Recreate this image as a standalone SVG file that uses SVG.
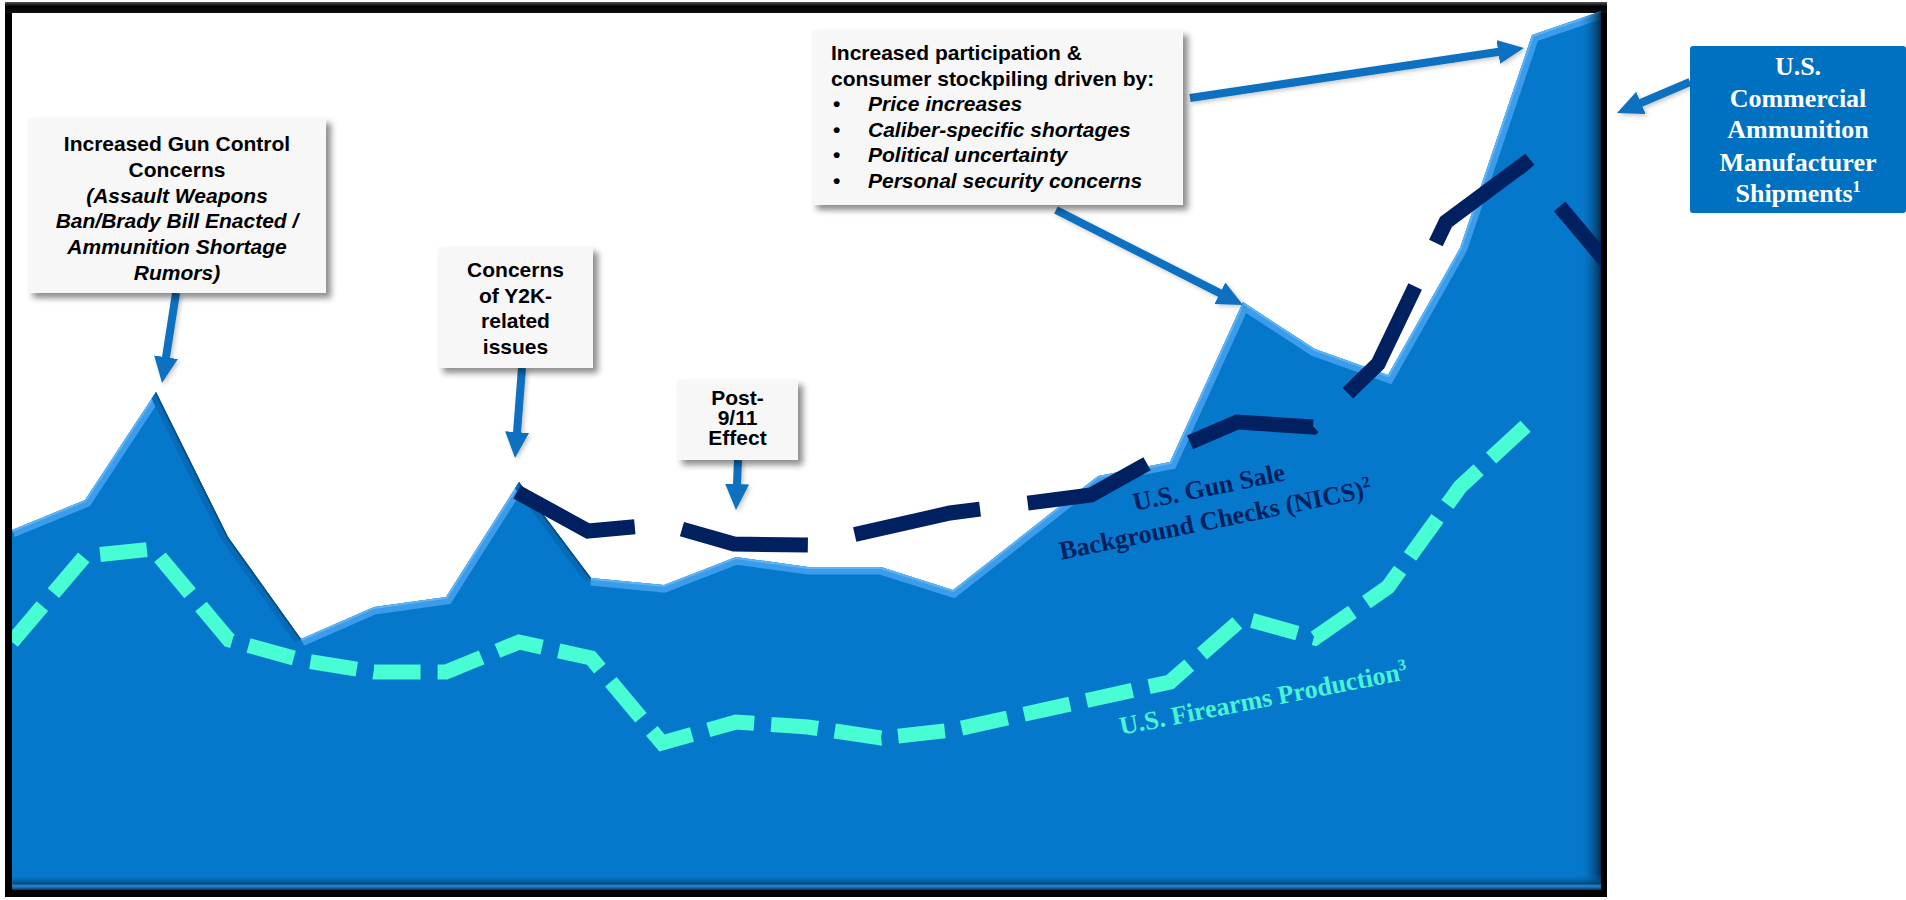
<svg xmlns="http://www.w3.org/2000/svg" width="1906" height="900" viewBox="0 0 1906 900">
<defs>
<style>
.box{fill:#F7F7F7;filter:url(#shadow)}
.t{font-family:"Liberation Sans",Arial,sans-serif;font-weight:bold;font-size:21px;fill:#000}
.c{text-anchor:middle}
.i{font-style:italic}
.ser{font-family:"Liberation Serif","Times New Roman",serif;font-weight:bold;font-size:26px}
.arrow{stroke:#0A70C0;stroke-width:8;fill:none;marker-end:url(#head)}
.lite{fill:none;stroke:#3A9CEA;stroke-width:15;stroke-linejoin:miter}
.liteEdge{fill:none;stroke:#5EB3F3;stroke-width:4;stroke-linejoin:miter}
.dark{fill:none;stroke:#0A4C80;stroke-width:3}
.darkBand{fill:none;stroke:#066AB6;stroke-width:14}
</style>
<marker id="head" markerUnits="userSpaceOnUse" markerWidth="26" markerHeight="24" viewBox="0 0 26 24" refX="6" refY="12" orient="auto"><path d="M0,0 L26,12 L0,24 z" fill="#0A70C0"/></marker>
<filter id="shadow" x="-10%" y="-10%" width="130%" height="130%"><feDropShadow dx="5" dy="5" stdDeviation="3" flood-color="#000" flood-opacity="0.45"/></filter>
<filter id="ashadow" filterUnits="userSpaceOnUse" x="0" y="0" width="1906" height="900"><feDropShadow dx="2" dy="2" stdDeviation="2" flood-color="#000" flood-opacity="0.22"/></filter>
<clipPath id="plot"><rect x="12" y="6" width="1589" height="884"/></clipPath>
<clipPath id="areaClip"><polygon points="12,530 85,500 156,392 228,537 301,639 374,607 446,597 519,482 591,578 664,585 736,557 808,567 881,567 953,590 1098,476 1170,462 1243,302 1315,349 1388,375 1460,248 1532,35 1605,10 1605,890 12,890"/></clipPath>
<linearGradient id="rightShade" x1="0" y1="0" x2="1" y2="0"><stop offset="0" stop-color="#0678CB" stop-opacity="0"/><stop offset="1" stop-color="#01243F" stop-opacity="0.9"/></linearGradient>
<linearGradient id="bottomShade" x1="0" y1="0" x2="0" y2="1"><stop offset="0" stop-color="#0678CB" stop-opacity="0"/><stop offset="0.6" stop-color="#03416F" stop-opacity="0.8"/><stop offset="0.75" stop-color="#2A8AD6" stop-opacity="0.9"/><stop offset="1" stop-color="#02335A" stop-opacity="1"/></linearGradient>
<linearGradient id="topFrame" x1="0" y1="0" x2="0" y2="1"><stop offset="0" stop-color="#555"/><stop offset="0.4" stop-color="#000"/><stop offset="1" stop-color="#111"/></linearGradient>
</defs>

<g id="frame">
<rect x="5" y="2" width="1602" height="895" fill="#000"/>
<rect x="5" y="2" width="1602" height="11" fill="url(#topFrame)"/>
<rect x="12" y="13" width="1589" height="877" fill="#FFFFFF"/>
</g>

<g id="chart" clip-path="url(#plot)">
<g id="ammunition-area">
<polygon points="12,530 85,500 156,392 228,537 301,639 374,607 446,597 519,482 591,578 664,585 736,557 808,567 881,567 953,590 1098,476 1170,462 1243,302 1315,349 1388,375 1460,248 1532,35 1605,10 1605,890 12,890" fill="#0678CB"/>
<g clip-path="url(#areaClip)">
<polyline class="lite" points="12,530 85,500 156,392"/>
<polyline class="lite" points="301,639 374,607 446,597 519,482"/>
<polyline class="lite" points="591,578 664,585 736,557 808,567 881,567 953,590 1098,476 1170,462 1243,302 1315,349 1388,375 1460,248 1532,35 1605,10"/>
<polyline class="liteEdge" points="12,530 85,500 156,392"/>
<polyline class="liteEdge" points="301,639 374,607 446,597 519,482"/>
<polyline class="liteEdge" points="591,578 664,585 736,557 808,567 881,567 953,590 1098,476 1170,462 1243,302 1315,349 1388,375 1460,248 1532,35 1605,10"/>
<polyline class="darkBand" points="156,392 228,537 301,639"/>
<polyline class="darkBand" points="519,482 591,578"/>
<polyline class="dark" points="156,392 228,537 301,639"/>
<polyline class="dark" points="519,482 591,578"/>
<rect x="1580" y="0" width="21" height="890" fill="url(#rightShade)"/>
<rect x="12" y="874" width="1589" height="16" fill="url(#bottomShade)"/>
</g>
</g>
<g id="nics-series">
<polyline points="517,492 588,531 664,524 734,544 808,545 950,513 1091,495 1170,451 1237,422 1313,427 1378,364 1446,222 1524,164 1608,264" fill="none" stroke="#002060" stroke-width="15" stroke-dasharray="128 48" stroke-linejoin="miter"/>
</g>
<g id="firearms-series">
<polyline points="12,642 85,556 153,549 229,640 301,660 374,672 446,672 519,642 591,658 662,743 736,722 808,727 881,738 953,730 1170,682 1243,618 1315,638 1388,587 1460,487 1530,422" fill="none" stroke="#48FCD3" stroke-width="15" stroke-dasharray="47 17" stroke-linejoin="miter"/>
</g>
</g>

<g id="label-nics">
<text class="ser" fill="#002060" text-anchor="middle" transform="translate(1217,528) rotate(-11.5)"><tspan x="0" y="-33">U.S. Gun Sale</tspan><tspan x="0" y="0">Background Checks (NICS)<tspan dy="-10" font-size="16">2</tspan></tspan></text>
</g>
<g id="label-firearms">
<text class="ser" fill="#48F5D2" text-anchor="middle" transform="translate(1265,707) rotate(-11)">U.S. Firearms Production<tspan dy="-10" font-size="16">3</tspan></text>
</g>

<g id="connectors" filter="url(#ashadow)">
<line class="arrow" x1="176" y1="293" x2="165.1" y2="363.2"/>
<line class="arrow" x1="522" y1="368" x2="516.6" y2="438.1"/>
<line class="arrow" x1="738" y1="460" x2="736.8" y2="490"/>
<line class="arrow" x1="1190" y1="98" x2="1504.2" y2="51"/>
<line class="arrow" x1="1056" y1="210" x2="1225.2" y2="295.9"/>
<line class="arrow" x1="1690" y1="82" x2="1635.4" y2="105.2"/>
</g>

<g id="box-gun-control">
<rect class="box" x="28" y="118" width="298" height="175"/>
<text class="t c" x="177" y="151">Increased Gun Control</text>
<text class="t c" x="177" y="177">Concerns</text>
<text class="t c i" x="177" y="203">(Assault Weapons</text>
<text class="t c i" x="177" y="228">Ban/Brady Bill Enacted /</text>
<text class="t c i" x="177" y="254">Ammunition Shortage</text>
<text class="t c i" x="177" y="280">Rumors)</text>
</g>

<g id="box-y2k">
<rect class="box" x="438" y="247" width="155" height="121"/>
<text class="t c" x="515.5" y="277">Concerns</text>
<text class="t c" x="515.5" y="303">of Y2K-</text>
<text class="t c" x="515.5" y="328">related</text>
<text class="t c" x="515.5" y="354">issues</text>
</g>

<g id="box-post911">
<rect class="box" x="677" y="380" width="121" height="80"/>
<text class="t c" x="737.5" y="405">Post-</text>
<text class="t c" x="737.5" y="425">9/11</text>
<text class="t c" x="737.5" y="445">Effect</text>
</g>

<g id="box-participation">
<rect class="box" x="812" y="30" width="371" height="175"/>
<text class="t" x="831" y="60">Increased participation &amp;</text>
<text class="t" x="831" y="85.6">consumer stockpiling driven by:</text>
<text class="t" x="833" y="111.2">•</text>
<text class="t i" x="868" y="111.2">Price increases</text>
<text class="t" x="833" y="136.8">•</text>
<text class="t i" x="868" y="136.8">Caliber-specific shortages</text>
<text class="t" x="833" y="162.4">•</text>
<text class="t i" x="868" y="162.4">Political uncertainty</text>
<text class="t" x="833" y="188">•</text>
<text class="t i" x="868" y="188">Personal security concerns</text>
</g>

<g id="box-ammunition">
<rect x="1690" y="46" width="216" height="167" rx="3" fill="#0070C0"/>
<text class="ser" fill="#FFFFFF" text-anchor="middle" x="1798" y="75">U.S.</text>
<text class="ser" fill="#FFFFFF" text-anchor="middle" x="1798" y="107">Commercial</text>
<text class="ser" fill="#FFFFFF" text-anchor="middle" x="1798" y="138">Ammunition</text>
<text class="ser" fill="#FFFFFF" text-anchor="middle" x="1798" y="171">Manufacturer</text>
<text class="ser" fill="#FFFFFF" text-anchor="middle" x="1798" y="202">Shipments<tspan dy="-10" font-size="16">1</tspan></text>
</g>
</svg>
